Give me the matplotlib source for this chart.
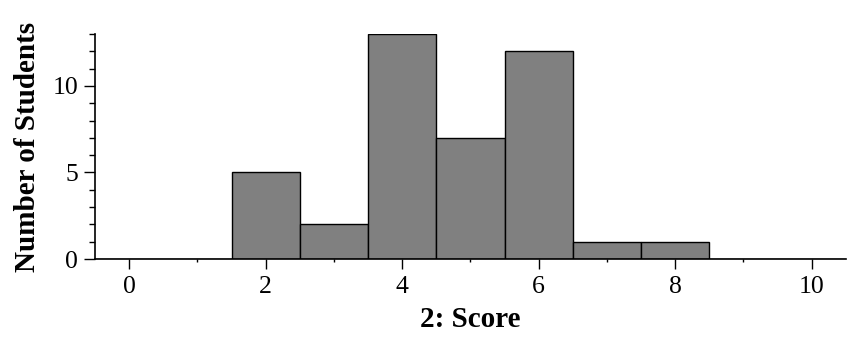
import numpy as np
import matplotlib.pyplot as plt
from matplotlib.ticker import MultipleLocator

# data #
scores = [0, 1, 2, 3, 4, 5, 6, 7, 8, 9, 10]
counts = [0, 0, 5, 2, 13, 7, 12, 1, 1, 0, 0]

plt.rcParams['font.family'] = ['Liberation Serif', 'DejaVu Serif']

fig = plt.figure(figsize=(8.66, 3.46), dpi=100)
ax = fig.add_axes([0.1097, 0.2514, 0.867, 0.6503])

ax.bar(scores, counts, width=1.0, color='#808080', edgecolor='black', linewidth=1.0)

ax.set_xlim(-0.5, 10.5)
ax.set_ylim(0, 13)

ax.spines['top'].set_visible(False)
ax.spines['right'].set_visible(False)
ax.spines['left'].set_linewidth(1.2)
ax.spines['bottom'].set_linewidth(1.2)

ax.xaxis.set_major_locator(MultipleLocator(2))
ax.xaxis.set_minor_locator(MultipleLocator(1))
ax.yaxis.set_major_locator(MultipleLocator(5))
ax.yaxis.set_minor_locator(MultipleLocator(1))

ax.tick_params(axis='x', which='major', length=7, width=1, labelsize=18.5, pad=5)
ax.tick_params(axis='x', which='minor', length=2.5, width=1)
ax.tick_params(axis='y', which='major', length=8, width=1, labelsize=18.5, pad=4)
ax.tick_params(axis='y', which='minor', length=4, width=1)

ax.set_xlabel('2: Score', fontsize=21, fontweight='bold', labelpad=6)
ax.set_ylabel('Number of Students', fontsize=21, fontweight='bold', labelpad=8)

plt.savefig('out.png')
